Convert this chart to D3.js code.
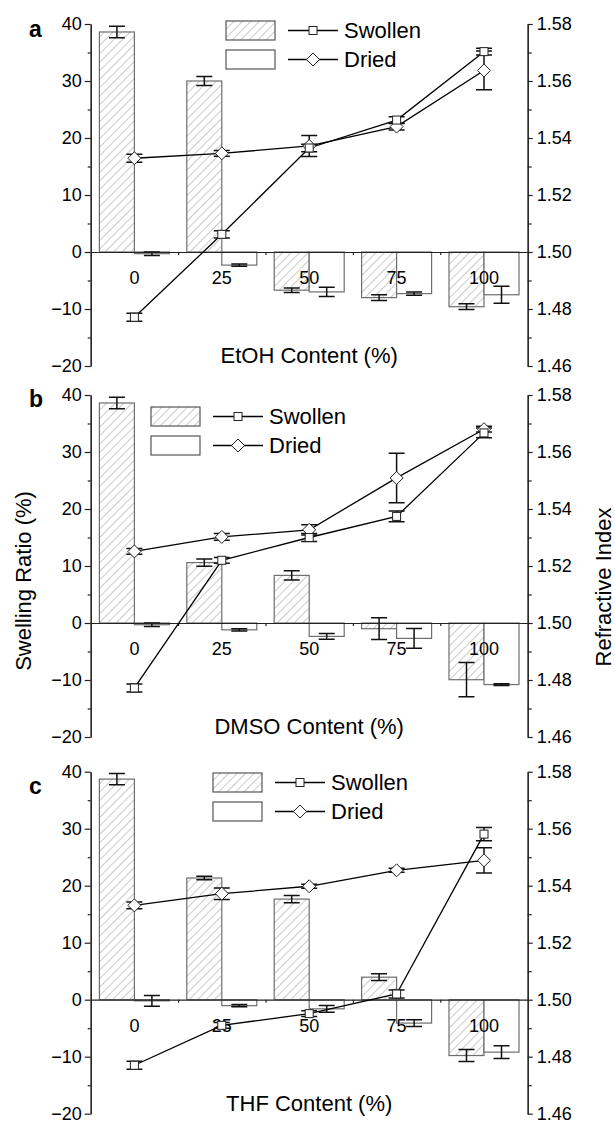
<!DOCTYPE html>
<html>
<head>
<meta charset="utf-8">
<script src="https://cdn.jsdelivr.net/npm/d3@7"></script>
<style>
  body { margin: 0; background: #fff; }
  svg { font-family: "Liberation Sans", Arial, sans-serif; }
</style>
</head>
<body>
<svg id="plot"></svg>
<script>
// x categories (solvent content, %)
const categories = ["0", "25", "50", "75", "100"];
const panelLetters = ["a", "b", "c"];
const xTitles = ["EtOH Content (%)", "DMSO Content (%)", "THF Content (%)"];
const leftTicks = [-20, -10, 0, 10, 20, 30, 40];
const rightTicks = [1.46, 1.48, 1.50, 1.52, 1.54, 1.56, 1.58];

// panel a (EtOH): swelling ratio bars (%)
const swellSwollenA = [38.6, 30.0, -6.7, -8.0, -9.6];
const swellSwollenErrA = [1.0, 0.8, 0.4, 0.5, 0.5];
const swellDriedA = [-0.3, -2.3, -7.0, -7.3, -7.5];
const swellDriedErrA = [0.3, 0.2, 0.8, 0.3, 1.5];
// panel a: refractive index lines
const riSwollenA = [1.4771, 1.5062, 1.5365, 1.5463, 1.5703];
const riSwollenErrA = [0.0014, 0.0013, 0.0013, 0.0012, 0.0012];
const riDriedA = [1.5329, 1.5346, 1.5372, 1.5440, 1.5637];
const riDriedErrA = [0.0014, 0.0010, 0.0037, 0.0012, 0.0068];

// panel b (DMSO)
const swellSwollenB = [38.6, 10.6, 8.35, -1.0, -9.95];
const swellSwollenErrB = [1.0, 0.65, 0.8, 1.9, 3.0];
const swellDriedB = [-0.3, -1.2, -2.35, -2.7, -10.8];
const swellDriedErrB = [0.3, 0.2, 0.5, 1.75, 0.15];
const riSwollenB = [1.4772, 1.5220, 1.5300, 1.5374, 1.5667];
const riSwollenErrB = [0.0014, 0.0010, 0.0014, 0.0019, 0.0017];
const riDriedB = [1.5251, 1.5302, 1.5327, 1.5509, 1.5680];
const riDriedErrB = [0.0010, 0.0012, 0.0018, 0.0087, 0.0010];

// panel c (THF)
const swellSwollenC = [38.7, 21.35, 17.65, 3.95, -9.8];
const swellSwollenErrC = [1.0, 0.3, 0.65, 0.6, 1.05];
const swellDriedC = [-0.2, -1.05, -1.6, -4.1, -9.2];
const swellDriedErrC = [0.95, 0.2, 0.6, 0.6, 1.1];
const riSwollenC = [1.4770, 1.4910, 1.4951, 1.5020, 1.5581];
const riSwollenErrC = [0.0014, 0.0010, 0.0010, 0.0014, 0.0023];
const riDriedC = [1.5331, 1.5372, 1.5398, 1.5454, 1.5489];
const riDriedErrC = [0.0012, 0.0020, 0.0007, 0.0007, 0.0044];

const panels = [
    { swS: swellSwollenA, swSe: swellSwollenErrA, swD: swellDriedA, swDe: swellDriedErrA,
      riS: riSwollenA, riSe: riSwollenErrA, riD: riDriedA, riDe: riDriedErrA },
    { swS: swellSwollenB, swSe: swellSwollenErrB, swD: swellDriedB, swDe: swellDriedErrB,
      riS: riSwollenB, riSe: riSwollenErrB, riD: riDriedB, riDe: riDriedErrB },
    { swS: swellSwollenC, swSe: swellSwollenErrC, swD: swellDriedC, swDe: swellDriedErrC,
      riS: riSwollenC, riSe: riSwollenErrC, riD: riDriedC, riDe: riDriedErrC }
];

const svg = d3.select("#plot")
    .attr("width", 615)
    .attr("height", 1121);

// hatch for swollen bars
svg.append("defs").append("pattern")
    .attr("id", "hatch")
    .attr("patternUnits", "userSpaceOnUse")
    .attr("width", 6)
    .attr("height", 6)
    .attr("patternTransform", "rotate(45)")
    .append("line")
    .attr("x1", 0).attr("y1", 0)
    .attr("x2", 0).attr("y2", 6)
    .attr("stroke", "#8a8a8a")
    .attr("stroke-width", 0.9);

const left = 90.7, right = 527.7, panelH = 342;
const panelTops = [24, 395, 771.7];
const letterY = [37, 407, 794];
const legendPos = [{ x: 226, y: 21 }, { x: 151, y: 407 }, { x: 213, y: 773 }];
const barW = 35, cap = 8;

const x = d3.scaleBand().domain(categories).range([left, right]);
const xb = d3.scaleLinear().domain([0, categories.length]).range([left, right]);

panels.forEach(function(p, pi) {
    const top = panelTops[pi];
    const yL = d3.scaleLinear().domain([-20, 40]).range([top + panelH, top]);
    const yR = d3.scaleLinear().domain([1.46, 1.58]).range([top + panelH, top]);
    const g = svg.append("g");

    // bars
    categories.forEach(function(c, i) {
        const cx = x(c) + x.bandwidth() / 2;
        const bars = [
            { v: p.swS[i], e: p.swSe[i], x0: cx - barW, fill: "url(#hatch)" },
            { v: p.swD[i], e: p.swDe[i], x0: cx, fill: "#fff" }
        ];
        bars.forEach(function(b) {
            g.append("rect")
                .attr("x", b.x0)
                .attr("y", Math.min(yL(b.v), yL(0)))
                .attr("width", barW)
                .attr("height", Math.abs(yL(b.v) - yL(0)))
                .attr("fill", b.fill)
                .attr("stroke", "#6e6e6e")
                .attr("stroke-width", 1.2);
        });
        bars.forEach(function(b) {
            errBar(g, b.x0 + barW / 2, yL(b.v + b.e), yL(b.v - b.e));
        });
    });

    // axes
    g.append("g")
        .attr("transform", `translate(${left},0)`)
        .call(d3.axisLeft(yL).tickValues(d3.range(-15, 40, 10)).tickSize(3).tickSizeOuter(0).tickFormat(""));
    g.append("g")
        .attr("class", "lab")
        .attr("transform", `translate(${left},0)`)
        .call(d3.axisLeft(yL).tickValues(leftTicks).tickSize(6).tickSizeOuter(0).tickPadding(3));
    g.append("g")
        .attr("transform", `translate(${right},0)`)
        .call(d3.axisRight(yR).tickValues(d3.range(1.47, 1.58, 0.02)).tickSize(4).tickSizeOuter(0).tickFormat(""));
    g.append("g")
        .attr("class", "lab")
        .attr("transform", `translate(${right},0)`)
        .call(d3.axisRight(yR).tickValues(rightTicks).tickSize(5).tickSizeOuter(0).tickPadding(4).tickFormat(d3.format(".2f")));
    g.append("g")
        .attr("transform", `translate(0,${yL(0)})`)
        .call(d3.axisBottom(xb).tickValues([1, 2, 3, 4]).tickSize(3).tickSizeOuter(0).tickFormat(""));

    g.selectAll(".domain").attr("stroke", "#222").attr("stroke-width", 1.2);
    g.selectAll(".tick line").attr("stroke", "#222").attr("stroke-width", 1.2);
    g.selectAll(".lab text").attr("font-size", 18).attr("fill", "#000")
        .attr("font-family", "Liberation Sans, Arial, sans-serif");

    // category labels
    g.selectAll(".cat")
        .data(categories)
        .enter().append("text")
        .attr("x", d => x(d) + x.bandwidth() / 2)
        .attr("y", yL(0) + 32)
        .attr("text-anchor", "middle")
        .attr("font-size", 18)
        .text(d => d);

    // refractive index lines
    const line = d3.line()
        .x((d, i) => x(categories[i]) + x.bandwidth() / 2)
        .y(d => yR(d));
    [{ v: p.riD, e: p.riDe }, { v: p.riS, e: p.riSe }].forEach(function(s) {
        g.append("path")
            .datum(s.v)
            .attr("d", line)
            .attr("fill", "none")
            .attr("stroke", "#000")
            .attr("stroke-width", 1.3);
        s.v.forEach(function(v, i) {
            errBar(g, x(categories[i]) + x.bandwidth() / 2, yR(v + s.e[i]), yR(v - s.e[i]));
        });
    });
    p.riD.forEach(function(v, i) {
        diamond(g, x(categories[i]) + x.bandwidth() / 2, yR(v));
    });
    p.riS.forEach(function(v, i) {
        square(g, x(categories[i]) + x.bandwidth() / 2, yR(v));
    });

    // x title + panel letter
    g.append("text")
        .attr("x", (left + right) / 2)
        .attr("y", yL(0) + 111)
        .attr("text-anchor", "middle")
        .attr("font-size", 22)
        .text(xTitles[pi]);
    g.append("text")
        .attr("x", 29)
        .attr("y", letterY[pi])
        .attr("font-size", 23)
        .attr("font-weight", "bold")
        .text(panelLetters[pi]);

    // legend
    const lp = legendPos[pi];
    ["Swollen", "Dried"].forEach(function(name, k) {
        const ry = lp.y + k * 29;
        g.append("rect")
            .attr("x", lp.x).attr("y", ry)
            .attr("width", 49).attr("height", 19)
            .attr("fill", k === 0 ? "url(#hatch)" : "#fff")
            .attr("stroke", "#555")
            .attr("stroke-width", 1.2);
        const lx = lp.x + 49;
        g.append("line")
            .attr("x1", lx + 13).attr("x2", lx + 63)
            .attr("y1", ry + 9.5).attr("y2", ry + 9.5)
            .attr("stroke", "#000").attr("stroke-width", 1.3);
        if (k === 0) square(g, lx + 38, ry + 9.5);
        else diamond(g, lx + 38, ry + 9.5);
        g.append("text")
            .attr("x", lx + 69)
            .attr("y", ry + 17)
            .attr("font-size", 22)
            .text(name);
    });
});

// y titles
svg.append("text")
    .attr("transform", "translate(31,581) rotate(-90)")
    .attr("text-anchor", "middle")
    .attr("font-size", 22)
    .text("Swelling Ratio (%)");
svg.append("text")
    .attr("transform", "translate(611,587) rotate(-90)")
    .attr("text-anchor", "middle")
    .attr("font-size", 22)
    .text("Refractive Index");

function errBar(g, cx, y1, y2) {
    g.append("path")
        .attr("d", `M${cx - cap},${y1}H${cx + cap}M${cx},${y1}V${y2}M${cx - cap},${y2}H${cx + cap}`)
        .attr("fill", "none")
        .attr("stroke", "#111")
        .attr("stroke-width", 1.5);
}
function square(g, cx, cy) {
    g.append("rect")
        .attr("x", cx - 4).attr("y", cy - 4)
        .attr("width", 8).attr("height", 8)
        .attr("fill", "#fff")
        .attr("stroke", "#222")
        .attr("stroke-width", 1);
}
function diamond(g, cx, cy) {
    g.append("path")
        .attr("d", `M${cx},${cy - 6.5}L${cx + 6.5},${cy}L${cx},${cy + 6.5}L${cx - 6.5},${cy}Z`)
        .attr("fill", "#fff")
        .attr("stroke", "#222")
        .attr("stroke-width", 1);
}
</script>
</body>
</html>
